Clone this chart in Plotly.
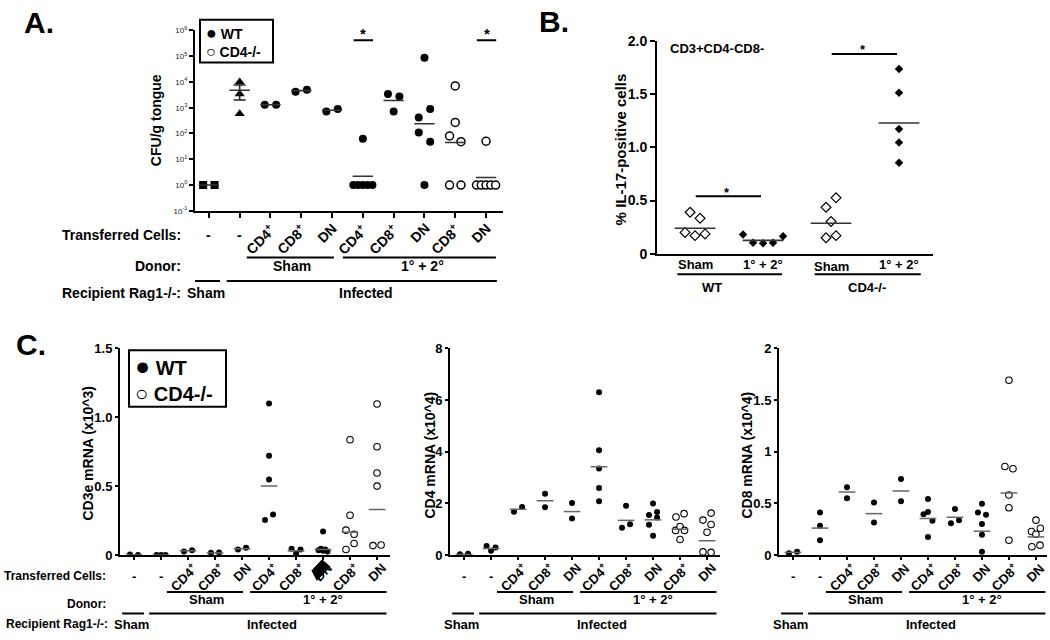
import math
import plotly.graph_objects as go

# ── data ─────────────────────────────────────────────────────────────────────

# A. CFU/g tongue (log scale), one list per x group
A_TICKS = ["-", "-", "CD4<sup>+</sup>", "CD8<sup>+</sup>", "DN",
           "CD4<sup>+</sup>", "CD8<sup>+</sup>", "DN", "CD8<sup>+</sup>", "DN"]
A_VALUES = [
    [1, 1],
    [10000, 3400, 590],
    [1300, 1300],
    [4200, 5000],
    [720, 900],
    [63, 1, 1, 1, 1, 1],
    [3400, 2700, 720],
    [87000, 420, 900, 110, 48, 1],
    [7000, 270, 80, 48, 1, 1],
    [50, 1, 1, 1, 1, 1],
]
A_LINES = [1, 4800, 1300, 4600, 800, 2.2, 1900, 240, 45, 1.95]
A_SEM_GROUP = 1
A_SEM = 2800
A_SIG = [5, 9]
A_SIG_Y = 10 ** 5.62

# B. % IL-17-positive cells (CD3+CD4-CD8-)
B_TICKS = ["Sham", "1° + 2°", "Sham", "1° + 2°"]
B_VALUES = [
    [0.39, 0.333, 0.20, 0.17, 0.186],
    [0.18, 0.104, 0.098, 0.104, 0.165],
    [0.437, 0.526, 0.303, 0.15, 0.17],
    [1.737, 1.514, 1.174, 1.046, 0.856],
]
B_LINES = [0.24, 0.125, 0.287, 1.23]
B_SIG = [(0, 1, 0.54), (2, 3, 1.88)]

# C. mRNA panels
C_TICKS = A_TICKS
CD3E = [
    [0.003, 0.0],
    [0.0, 0.0, 0.0],
    [0.026, 0.035],
    [0.017, 0.018],
    [0.04, 0.052],
    [1.10, 0.72, 0.548, 0.253, 0.293],
    [0.045, 0.01, 0.04],
    [0.17, 0.035, 0.045, 0.03, 0.04, 0.025],
    [0.836, 0.288, 0.18, 0.15, 0.04, 0.083],
    [1.096, 0.785, 0.595, 0.50, 0.068, 0.072],
]
CD3E_LINES = [0.0, 0.0, 0.03, 0.015, 0.045, 0.50, 0.03, 0.04, 0.165, 0.33]
CD4 = [
    [0.03, 0.05],
    [0.35, 0.16, 0.29],
    [1.67, 1.86],
    [2.37, 1.85],
    [2.01, 1.41],
    [6.30, 4.05, 3.35, 2.59, 2.08],
    [1.91, 1.05, 1.19],
    [1.99, 1.66, 1.55, 1.45, 1.17, 0.74],
    [1.47, 1.60, 0.95, 1.10, 0.95, 0.60],
    [1.62, 1.35, 1.18, 0.88, 0.12, 0.10],
]
CD4_LINES = [0.02, 0.25, 1.77, 2.10, 1.68, 3.41, 1.34, 1.36, 1.0, 0.55]
CD8 = [
    [0.016, 0.032],
    [0.41, 0.283, 0.142],
    [0.655, 0.55],
    [0.507, 0.315],
    [0.734, 0.52],
    [0.542, 0.394, 0.416, 0.33, 0.174],
    [0.444, 0.306, 0.337],
    [0.495, 0.41, 0.39, 0.30, 0.195, 0.032],
    [1.69, 0.856, 0.834, 0.58, 0.457, 0.142],
    [0.337, 0.227, 0.20, 0.258, 0.08, 0.095],
]
CD8_LINES = [0.025, 0.26, 0.61, 0.40, 0.62, 0.353, 0.365, 0.23, 0.60, 0.175]

OPEN_GROUPS = [8, 9]          # CD4-/- donors in A and C
B_OPEN_GROUPS = [0, 2]        # sham groups in B

# ── layout helpers ───────────────────────────────────────────────────────────

W, H = 1050, 640
FONT = "Liberation Sans, Arial, sans-serif"
LINE_GREY = "#555555"


def px(x):
    return x / W


def py(y):
    return 1 - y / H


# x domains (pixels) and ranges of the category axes
XDOM = {
    "x": ((195, 503), (-0.45, 9.55)),
    "x2": ((657, 933), (-0.56, 3.5)),
    "x3": ((120, 390), (-0.52, 9.48)),
    "x4": ((450, 720), (-0.52, 9.48)),
    "x5": ((779, 1047), (-0.52, 9.41)),
}


def cat_paper(xa, v):
    (d0, d1), (r0, r1) = XDOM[xa]
    return px(d0 + (v - r0) / (r1 - r0) * (d1 - d0))


def swarm(vals, scale, mk, sep, width, log=False):
    """Spread points that would overlap (simple column scatter)."""
    ys = [(math.log10(v) if log else v) * scale for v in vals]
    order = sorted(range(len(vals)), key=lambda i: -ys[i])
    clusters, cur = [], [order[0]]
    for i in order[1:]:
        if ys[cur[-1]] - ys[i] < 1.4 * mk:
            cur.append(i)
        else:
            clusters.append(cur)
            cur = [i]
    clusters.append(cur)
    off = [0.0] * len(vals)
    for c in clusters:
        n = len(c)
        if n == 1:
            continue
        if ys[c[0]] - ys[c[-1]] < 2 * mk:
            step = min(sep, width / (n - 1))
            for k, i in enumerate(sorted(c)):
                off[i] = (k - (n - 1) / 2) * step
        else:
            for k, i in enumerate(c):
                off[i] = sep / 2 * (1 if k % 2 == 0 else -1)
    return off


def points(groups, pick, scale, mk, sep, width, log=False):
    xs, ys = [], []
    for g, vals in enumerate(groups):
        if g not in pick:
            continue
        for o, v in zip(swarm(vals, scale, mk, sep, width, log), vals):
            xs.append(g + o)
            ys.append(v)
    return xs, ys


def mean_lines(lines, half, xa, ya, color=LINE_GREY, width=1.6):
    xs, ys = [], []
    for g, m in enumerate(lines):
        xs += [g - half, g + half, None]
        ys += [m, m, None]
    return go.Scatter(x=xs, y=ys, mode="lines", xaxis=xa, yaxis=ya,
                      line=dict(color=color, width=width), hoverinfo="skip")


fig = go.Figure()
ann = []
shapes = []


def text(x, y, s, size=13, xanchor="center", xref="paper", yref="paper",
         angle=0, bold=True, yanchor="middle", align="center"):
    ann.append(dict(x=x, y=y, xref=xref, yref=yref, text=s, showarrow=False,
                    xanchor=xanchor, yanchor=yanchor, textangle=angle, align=align,
                    font=dict(family=FONT, size=size, color="black",
                              weight="bold" if bold else "normal")))


def hline(x0, x1, y, xref, width=2):
    shapes.append(dict(type="line", xref=xref, yref="paper", x0=x0, x1=x1,
                       y0=py(y), y1=py(y), line=dict(color="black", width=width)))


def cat_labels(labels, xa, y_dash, y_top, size, dx):
    # group labels under the x axis: dashes flat, names at 45 degrees
    for g, t in enumerate(labels):
        if t == "-":
            text(cat_paper(xa, g), py(y_dash), "-", size=size)
        else:
            text(cat_paper(xa, g + dx), py(y_top), t, size=size, angle=-45,
                 xanchor="right", yanchor="top")


def key_text(big_fill, big_open):
    return (f'<span style="font-size:{big_fill}px">●</span> WT<br>'
            f'<span style="font-size:{big_open}px">○</span> CD4-/-')


# ── panel A ──────────────────────────────────────────────────────────────────

A_SCALE, A_MK, A_SEP, A_W = 26.4, 7, 0.37, 0.62
filled = [g for g in range(2, 10) if g not in OPEN_GROUPS]

x, y = points(A_VALUES, [0], A_SCALE, A_MK, A_SEP, A_W, log=True)
fig.add_trace(go.Scatter(x=x, y=y, mode="markers", xaxis="x", yaxis="y",
                         marker=dict(symbol="square", size=8, color="black")))
x, y = points(A_VALUES, [1], A_SCALE, A_MK, A_SEP, A_W, log=True)
fig.add_trace(go.Scatter(x=x, y=y, mode="markers", xaxis="x", yaxis="y",
                         marker=dict(symbol="triangle-up", size=9, color="black")))
x, y = points(A_VALUES, filled, A_SCALE, A_MK, A_SEP, A_W, log=True)
fig.add_trace(go.Scatter(x=x, y=y, mode="markers", xaxis="x", yaxis="y",
                         marker=dict(symbol="circle", size=8, color="black")))
x, y = points(A_VALUES, OPEN_GROUPS, A_SCALE, A_MK, A_SEP, A_W, log=True)
fig.add_trace(go.Scatter(x=x, y=y, mode="markers", xaxis="x", yaxis="y",
                         marker=dict(symbol="circle", size=8, color="white",
                                     line=dict(color="black", width=1.5))))
fig.add_trace(mean_lines(A_LINES, 0.33, "x", "y", color="#333333", width=1.6))
fig.add_trace(go.Scatter(
    x=[A_SEM_GROUP], y=[A_LINES[A_SEM_GROUP]], mode="markers", xaxis="x", yaxis="y",
    marker=dict(size=1, color="rgba(0,0,0,0)"),
    error_y=dict(type="data", array=[A_SEM], color="#222222", thickness=1.6, width=6)))
for g in A_SIG:
    fig.add_trace(go.Scatter(x=[g - 0.3, g + 0.33], y=[A_SIG_Y, A_SIG_Y], mode="lines",
                             xaxis="x", yaxis="y", line=dict(color="black", width=2)))
    text(g + 0.02, math.log10(A_SIG_Y) + 0.25, "*", size=15, xref="x", yref="y")

cat_labels(A_TICKS, "x", 233, 215, 14, 0.35)
text(px(183), py(233), "Transferred Cells:", size=14, xanchor="right")
text(px(183), py(265), "Donor:", size=14, xanchor="right")
text(2.7, py(265), "Sham", size=14, xref="x")
text(6.95, py(265), "1° + 2°", size=14, xref="x")
text(px(183), py(292), "Recipient Rag1-/-:", size=14, xanchor="right")
text(-0.1, py(292), "Sham", size=14, xref="x")
text(5.1, py(292), "Infected", size=14, xref="x")
hline(1.23, 4.06, 256, "x")
hline(4.35, 9.32, 256, "x")
hline(-0.45, 0.36, 280, "x")
hline(0.58, 9.35, 280, "x")
text(px(22), py(15), "A.", size=30, xanchor="left")
text(px(156), py(115), "CFU/g tongue", size=14, angle=-90)
shapes.append(dict(type="rect", xref="paper", yref="paper", x0=px(200), x1=px(273),
                   y0=py(56), y1=py(12), line=dict(color="black", width=2)))
text(px(204), py(34), key_text(18, 16), size=14, xanchor="left", align="left")

# ── panel B ──────────────────────────────────────────────────────────────────

B_SCALE, B_MK, B_SEP, B_W = 109, 8, 0.147, 0.6
b_filled = [g for g in range(4) if g not in B_OPEN_GROUPS]
x, y = points(B_VALUES, B_OPEN_GROUPS, B_SCALE, B_MK, B_SEP, B_W)
fig.add_trace(go.Scatter(x=x, y=y, mode="markers", xaxis="x2", yaxis="y2",
                         marker=dict(symbol="diamond", size=7.5, color="white",
                                     line=dict(color="black", width=1.2))))
x, y = points(B_VALUES, b_filled, B_SCALE, B_MK, B_SEP, B_W)
fig.add_trace(go.Scatter(x=x, y=y, mode="markers", xaxis="x2", yaxis="y2",
                         marker=dict(symbol="diamond", size=6.5, color="black")))
fig.add_trace(mean_lines(B_LINES, 0.3, "x2", "y2", color="#333333", width=1.6))
for g0, g1, yv in B_SIG:
    fig.add_trace(go.Scatter(x=[g0 + 0.01, g1 - 0.03], y=[yv, yv], mode="lines",
                             xaxis="x2", yaxis="y2", line=dict(color="black", width=2)))
    text((g0 + g1) / 2 - 0.03, yv + 0.04, "*", size=13, xref="x2", yref="y2")

for g, t in enumerate(B_TICKS):
    text(g, py(265 if g == 2 else 263), t, size=13, xref="x2")
text(px(537), py(14), "B.", size=30, xanchor="left")
text(px(717), py(42), "CD3+CD4-CD8-", size=13)
text(px(620), py(145), "% IL-17-positive cells", size=15, angle=-90)
hline(-0.26, 1.28, 273, "x2")
hline(1.76, 3.32, 273, "x2")
text(0.25, py(287), "WT", size=13, xref="x2")
text(2.53, py(287), "CD4-/-", size=13, xref="x2")

# ── panel C ──────────────────────────────────────────────────────────────────

C_MK, C_SEP, C_W = 5.5, 0.3, 0.33
c_filled = [g for g in range(10) if g not in OPEN_GROUPS]
C_PANELS = [
    (CD3E, CD3E_LINES, 141.1, "x3", "y3"),
    (CD4, CD4_LINES, 26.5, "x4", "y4"),
    (CD8, CD8_LINES, 105.9, "x5", "y5"),
]
for vals, lines, scale, xa, ya in C_PANELS:
    x, y = points(vals, c_filled, scale, C_MK, C_SEP, C_W)
    fig.add_trace(go.Scatter(x=x, y=y, mode="markers", xaxis=xa, yaxis=ya,
                             marker=dict(symbol="circle", size=6, color="black")))
    x, y = points(vals, OPEN_GROUPS, scale, C_MK, C_SEP, C_W)
    fig.add_trace(go.Scatter(x=x, y=y, mode="markers", xaxis=xa, yaxis=ya,
                             marker=dict(symbol="circle", size=6.5, color="white",
                                         line=dict(color="black", width=1.1))))
    fig.add_trace(mean_lines(lines, 0.31, xa, ya, color="#666666", width=1.5))
    cat_labels(C_TICKS, xa, 583, 564, 13, 0.55)
    text(2.67, py(607), "Sham", size=13, xref=xa)
    text(7.0, py(607), "1° + 2°", size=13, xref=xa)
    text(-0.1, py(632), "Sham", size=13, xref=xa)
    text(5.1, py(632), "Infected", size=13, xref=xa)
    hline(1.22, 4.04, 599, xa)
    hline(4.3, 9.35, 599, xa)
    hline(-0.44, 0.37, 621, xa)
    hline(0.56, 9.35, 621, xa)

text(px(14), py(345), "C.", size=30, xanchor="left")
text(px(108), py(583), "Transferred Cells:", size=12, xanchor="right")
text(px(108), py(611), "Donor:", size=12, xanchor="right")
text(px(110), py(632), "Recipient Rag1-/-:", size=12, xanchor="right")
text(px(88), py(457), "CD3e mRNA (x10^3)", size=14, angle=-90)
text(px(430), py(459), "CD4 mRNA (x10^4)", size=14, angle=-90)
text(px(747), py(459), "CD8 mRNA (x10^4)", size=14, angle=-90)
shapes.append(dict(type="rect", xref="paper", yref="paper", x0=px(129), x1=px(226),
                   y0=py(409), y1=py(351), line=dict(color="black", width=2)))
text(px(133), py(380), key_text(25, 22), size=20, xanchor="left", align="left")
# black blot over one tick label in the original scan
shapes.append(dict(type="path", xref="paper", yref="paper",
                   path=f"M {px(312)},{py(577)} L {px(322)},{py(566)} "
                        f"L {px(330)},{py(573)} L {px(317)},{py(587)} Z",
                   fillcolor="black", line=dict(color="black", width=1)))

# ── axes ─────────────────────────────────────────────────────────────────────

AX = dict(showgrid=False, zeroline=False, showline=True, linecolor="black",
          linewidth=2, ticks="outside", tickcolor="black", tickwidth=1.5)


def xcat(xa, n, anchor, ticklen=4):
    (d0, d1), rng = XDOM[xa]
    return dict(AX, domain=[px(d0), px(d1)], range=list(rng), anchor=anchor,
                tickmode="array", tickvals=list(range(n)), showticklabels=False,
                ticklen=ticklen)


a_pow = list(range(-1, 7))
b_axis = xcat("x2", 4, "y2")
b_axis.update(ticks="")
fig.update_layout(
    width=W, height=H, margin=dict(l=0, r=0, t=0, b=0),
    paper_bgcolor="white", plot_bgcolor="white", showlegend=False,
    annotations=ann, shapes=shapes,
    xaxis=xcat("x", len(A_TICKS), "y", ticklen=5),
    yaxis=dict(AX, domain=[py(208), py(23)], type="log", range=[-1, 6], anchor="x",
               tickmode="array", tickvals=[10 ** p for p in a_pow],
               ticktext=[f"10<sup>{p}</sup>" for p in a_pow], ticklen=4,
               tickfont=dict(family=FONT, size=8, color="#222222")),
    xaxis2=b_axis,
    yaxis2=dict(AX, domain=[py(252), py(34)], range=[0, 2], anchor="x2",
                tickmode="array", tickvals=[0, 0.5, 1, 1.5, 2],
                ticktext=["0", "0.5", "1.0", "1.5", "2.0"], ticklen=5,
                tickfont=dict(family=FONT, size=14, color="black", weight="bold")),
    xaxis3=xcat("x3", len(C_TICKS), "y3", ticklen=3),
    yaxis3=dict(AX, domain=[py(561), py(349)], range=[0, 1.5], anchor="x3",
                tickmode="array", tickvals=[0, 0.5, 1, 1.5],
                ticktext=["0", "0.5", "1.0", "1.5"], ticklen=3,
                tickfont=dict(family=FONT, size=13, color="black", weight="bold")),
    xaxis4=xcat("x4", len(C_TICKS), "y4", ticklen=3),
    yaxis4=dict(AX, domain=[py(561), py(349)], range=[0, 8], anchor="x4",
                tickmode="array", tickvals=[0, 2, 4, 6, 8], ticklen=3,
                tickfont=dict(family=FONT, size=13, color="black", weight="bold")),
    xaxis5=xcat("x5", len(C_TICKS), "y5", ticklen=3),
    yaxis5=dict(AX, domain=[py(561), py(349)], range=[0, 2], anchor="x5",
                tickmode="array", tickvals=[0, 0.5, 1, 1.5, 2],
                ticktext=["0", "0.5", "1", "1.5", "2"], ticklen=3,
                tickfont=dict(family=FONT, size=13, color="black", weight="bold")),
)

# the page body has a default 8px margin; drop it so the figure fills the window
fig.write_html("out.html", config={"displayModeBar": False},
               post_script="document.body.style.margin = '0';")
